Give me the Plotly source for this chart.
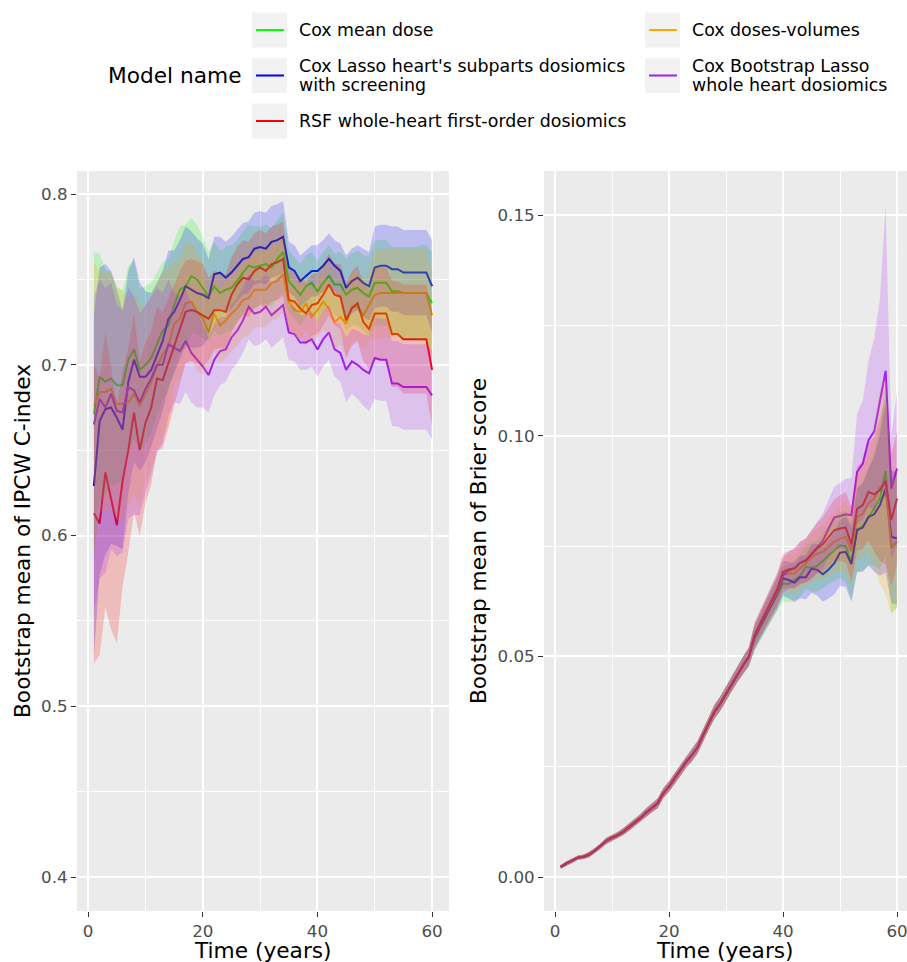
import plotly.graph_objects as go

W, H = 907, 962

# ---------------- data ----------------
years = list(range(1, 61))

model_names = [
    "Cox mean dose",
    "Cox Lasso heart's subparts dosiomics<br>with screening",
    "RSF whole-heart first-order dosiomics",
    "Cox doses-volumes",
    "Cox Bootstrap Lasso<br>whole heart dosiomics",
]

# IPCW C-index (left panel)
cidx_mean_meandose = [.671, .693, .690, .692, .688, .688, .703, .709, .697, .700,
                      .704, .712, .720, .723, .735, .744, .746, .752, .750, .745,
                      .740, .746, .742, .744, .745, .749, .754, .758, .757, .758,
                      .759, .757, .762, .766, .749, .745, .741, .746, .748, .743,
                      .748, .752, .747, .747, .741, .744, .745, .742, .740, .748,
                      .748, .748, .743, .743, .742, .742, .742, .742, .742, .736]
cidx_low_meandose = [.585, .621, .624, .630, .630, .633, .648, .657, .649, .654,
                     .660, .670, .680, .684, .697, .707, .710, .718, .718, .715,
                     .714, .720, .717, .719, .720, .725, .730, .734, .733, .735,
                     .736, .734, .739, .743, .731, .727, .723, .728, .730, .725,
                     .730, .734, .729, .728, .720, .723, .723, .720, .717, .723,
                     .723, .723, .717, .717, .715, .715, .715, .714, .714, .706]
cidx_high_meandose = [.766, .765, .756, .754, .746, .743, .758, .761, .745, .746,
                      .748, .754, .760, .762, .773, .781, .782, .786, .782, .775,
                      .766, .772, .767, .769, .770, .773, .778, .782, .781, .781,
                      .782, .780, .785, .789, .767, .763, .759, .764, .766, .761,
                      .766, .770, .765, .766, .762, .765, .767, .764, .763, .773,
                      .773, .773, .769, .769, .769, .769, .769, .770, .770, .766]

cidx_mean_lasso = [.629, .667, .674, .675, .669, .662, .690, .703, .693, .693,
                   .697, .705, .714, .727, .731, .738, .746, .744, .742, .741,
                   .739, .753, .754, .751, .754, .758, .762, .763, .768, .769,
                   .768, .772, .773, .775, .757, .755, .749, .752, .755, .755,
                   .758, .762, .758, .755, .745, .749, .751, .748, .746, .757,
                   .758, .758, .756, .756, .754, .754, .754, .754, .754, .746]
cidx_low_lasso = [.529, .577, .589, .595, .594, .592, .625, .643, .638, .643,
                  .652, .662, .673, .687, .695, .703, .711, .710, .710, .711,
                  .716, .731, .733, .730, .733, .737, .741, .742, .747, .748,
                  .747, .751, .752, .754, .742, .740, .734, .737, .740, .740,
                  .743, .747, .743, .739, .726, .730, .732, .728, .726, .733,
                  .734, .734, .731, .731, .729, .729, .729, .729, .729, .719]
cidx_high_lasso = [.729, .757, .759, .755, .744, .732, .755, .763, .748, .743,
                   .742, .748, .755, .767, .767, .773, .781, .778, .774, .771,
                   .762, .775, .775, .772, .775, .779, .783, .784, .789, .790,
                   .789, .793, .794, .796, .772, .770, .764, .767, .770, .770,
                   .773, .777, .773, .771, .764, .768, .770, .768, .766, .781,
                   .782, .782, .781, .781, .779, .779, .779, .779, .779, .773]

cidx_mean_rsf = [.613, .607, .637, .622, .606, .632, .650, .672, .650, .666,
                 .675, .692, .691, .701, .711, .722, .731, .732, .731, .729,
                 .727, .732, .732, .731, .741, .747, .751, .750, .755, .757,
                 .755, .759, .760, .762, .738, .737, .733, .730, .735, .736,
                 .741, .747, .741, .740, .726, .733, .736, .725, .721, .730,
                 .730, .730, .718, .718, .715, .715, .715, .715, .715, .697]
cidx_low_rsf = [.525, .530, .558, .545, .537, .570, .590, .614, .600, .619,
                .630, .650, .651, .663, .676, .689, .701, .702, .701, .699,
                .703, .709, .710, .709, .719, .725, .729, .728, .733, .735,
                .733, .737, .738, .740, .720, .719, .715, .712, .717, .718,
                .723, .729, .723, .721, .704, .711, .714, .702, .698, .703,
                .703, .703, .687, .687, .683, .683, .683, .683, .683, .664]
cidx_high_rsf = [.701, .692, .719, .699, .675, .697, .710, .730, .702, .713,
                 .720, .734, .731, .739, .746, .755, .761, .762, .761, .759,
                 .751, .755, .754, .753, .763, .769, .773, .772, .777, .779,
                 .777, .781, .782, .784, .756, .755, .751, .748, .753, .754,
                 .759, .765, .759, .759, .748, .755, .758, .748, .744, .757,
                 .757, .757, .749, .749, .747, .747, .747, .747, .747, .730]

cidx_mean_dv = [.676, .684, .684, .686, .677, .677, .678, .683, .676, .683,
                .690, .699, .706, .711, .724, .727, .736, .737, .731, .727,
                .719, .730, .723, .726, .730, .733, .738, .739, .744, .744,
                .744, .748, .749, .753, .737, .732, .731, .736, .728, .732,
                .737, .733, .725, .728, .724, .734, .734, .729, .735, .741,
                .742, .742, .742, .742, .742, .742, .742, .742, .742, .729]
cidx_low_dv = [.591, .614, .614, .617, .609, .610, .618, .624, .617, .632,
               .640, .650, .658, .665, .688, .692, .701, .703, .697, .694,
               .697, .708, .701, .704, .708, .711, .716, .717, .722, .722,
               .722, .726, .727, .731, .721, .716, .715, .720, .712, .716,
               .721, .717, .709, .712, .704, .714, .714, .709, .715, .715,
               .716, .716, .716, .716, .716, .716, .716, .716, .716, .703]
cidx_high_dv = [.761, .754, .754, .755, .745, .744, .738, .742, .735, .734,
                .740, .748, .754, .757, .760, .762, .771, .771, .765, .760,
                .741, .752, .745, .748, .752, .755, .760, .761, .766, .766,
                .766, .770, .771, .775, .753, .748, .747, .752, .744, .748,
                .753, .749, .741, .744, .744, .754, .754, .749, .755, .767,
                .768, .768, .768, .768, .768, .768, .768, .768, .768, .755]

cidx_mean_boot = [.665, .680, .675, .683, .673, .672, .687, .685, .678, .686,
                  .692, .700, .700, .712, .710, .708, .714, .707, .703, .699,
                  .694, .703, .708, .709, .716, .720, .726, .734, .730, .731,
                  .734, .729, .732, .735, .719, .718, .713, .713, .715, .709,
                  .715, .719, .709, .707, .697, .702, .700, .697, .695, .704,
                  .703, .703, .689, .689, .687, .687, .687, .687, .687, .682]
cidx_low_boot = [.555, .575, .578, .592, .588, .590, .610, .612, .612, .625,
                 .636, .648, .654, .670, .678, .677, .684, .678, .675, .675,
                 .672, .682, .688, .690, .697, .701, .707, .715, .711, .712,
                 .715, .710, .713, .716, .703, .702, .697, .697, .699, .693,
                 .699, .703, .693, .690, .678, .683, .680, .676, .673, .680,
                 .679, .679, .664, .664, .662, .662, .662, .662, .662, .656]
cidx_high_boot = [.740, .750, .745, .748, .735, .732, .745, .740, .730, .735,
                  .740, .745, .742, .750, .742, .739, .744, .736, .731, .723,
                  .716, .724, .728, .728, .735, .739, .745, .753, .749, .750,
                  .753, .748, .751, .754, .735, .734, .729, .729, .731, .725,
                  .731, .735, .725, .724, .716, .721, .720, .718, .717, .728,
                  .727, .727, .714, .714, .712, .712, .712, .712, .712, .708]

# Brier score (right panel): years 1-34 coincide for all models
brier_early_mean = [.0023, .0031, .0037, .0044, .0046, .0051, .0060, .0070, .0082, .0089,
                    .0095, .0103, .0113, .0123, .0134, .0146, .0157, .0167, .0190, .0205,
                    .0224, .0242, .0261, .0276, .0294, .0322, .0350, .0375, .0393, .0415,
                    .0439, .0461, .0480, .0499]
brier_early_low = [.0019, .0026, .0032, .0039, .0041, .0045, .0054, .0064, .0075, .0082,
                   .0088, .0095, .0105, .0114, .0125, .0136, .0147, .0156, .0179, .0193,
                   .0212, .0229, .0248, .0262, .0280, .0307, .0335, .0359, .0377, .0398,
                   .0421, .0442, .0460, .0478]
brier_early_high = [.0027, .0036, .0042, .0049, .0051, .0057, .0066, .0076, .0089, .0096,
                    .0102, .0111, .0121, .0132, .0143, .0156, .0167, .0178, .0201, .0217,
                    .0236, .0255, .0274, .0290, .0308, .0337, .0365, .0391, .0409, .0432,
                    .0457, .0480, .0500, .0520]

# years 35-60
brier_mean_meandose = brier_early_mean + [.0540, .0566, .0592, .0616, .0640, .0665, .0664, .0673, .0682, .0703,
                                          .0701, .0705, .0717, .0730, .0741, .0752, .0750, .0714, .0788, .0795,
                                          .0816, .0835, .0858, .0920, .0750, .0760]
brier_low_meandose = brier_early_low + [.0512, .0536, .0560, .0582, .0603, .0625, .0622, .0628, .0634, .0653,
                                        .0646, .0647, .0655, .0664, .0671, .0677, .0670, .0629, .0693, .0695,
                                        .0706, .0705, .0698, .0730, .0600, .0610]
brier_high_meandose = brier_early_high + [.0568, .0596, .0624, .0650, .0677, .0705, .0706, .0718, .0730, .0753,
                                          .0756, .0763, .0779, .0796, .0811, .0827, .0830, .0799, .0883, .0895,
                                          .0926, .0965, .1018, .1110, .0900, .0910]

brier_mean_lasso = brier_early_mean + [.0542, .0568, .0594, .0618, .0643, .0677, .0673, .0667, .0680, .0679,
                                       .0699, .0696, .0686, .0697, .0711, .0735, .0737, .0709, .0786, .0792,
                                       .0816, .0822, .0843, .0880, .0771, .0767]
brier_low_lasso = brier_early_low + [.0514, .0538, .0562, .0584, .0606, .0637, .0631, .0622, .0632, .0629,
                                     .0644, .0638, .0624, .0631, .0641, .0660, .0657, .0624, .0691, .0692,
                                     .0706, .0692, .0683, .0690, .0621, .0617]
brier_high_lasso = brier_early_high + [.0570, .0598, .0626, .0652, .0680, .0717, .0715, .0712, .0728, .0729,
                                       .0754, .0754, .0748, .0763, .0781, .0810, .0817, .0794, .0881, .0892,
                                       .0926, .0952, .1003, .1070, .0921, .0917]

brier_mean_rsf = brier_early_mean + [.0548, .0575, .0602, .0627, .0653, .0692, .0697, .0699, .0712, .0717,
                                     .0730, .0745, .0754, .0771, .0786, .0790, .0792, .0754, .0835, .0843,
                                     .0873, .0867, .0877, .0898, .0809, .0858]
brier_low_rsf = brier_early_low + [.0520, .0545, .0570, .0593, .0616, .0652, .0655, .0654, .0664, .0667,
                                   .0675, .0687, .0692, .0705, .0716, .0715, .0712, .0669, .0740, .0743,
                                   .0763, .0737, .0717, .0708, .0659, .0708]
brier_high_rsf = brier_early_high + [.0576, .0605, .0634, .0661, .0690, .0732, .0739, .0744, .0760, .0767,
                                     .0785, .0803, .0816, .0837, .0856, .0865, .0872, .0839, .0930, .0943,
                                     .0983, .0997, .1037, .1088, .0959, .1008]

brier_mean_dv = brier_early_mean + [.0545, .0572, .0598, .0622, .0647, .0684, .0688, .0688, .0699, .0711,
                                    .0724, .0733, .0737, .0748, .0760, .0767, .0771, .0740, .0816, .0824,
                                    .0847, .0858, .0884, .0890, .0745, .0760]
brier_low_dv = brier_early_low + [.0517, .0542, .0566, .0588, .0610, .0644, .0646, .0643, .0651, .0661,
                                  .0669, .0675, .0675, .0682, .0690, .0692, .0691, .0655, .0721, .0724,
                                  .0737, .0698, .0664, .0640, .0595, .0610]
brier_high_dv = brier_early_high + [.0573, .0602, .0630, .0656, .0684, .0724, .0730, .0733, .0747, .0761,
                                    .0779, .0791, .0799, .0814, .0830, .0842, .0851, .0825, .0911, .0924,
                                    .0957, .1018, .1104, .1140, .0895, .0910]

brier_mean_boot = brier_early_mean + [.0546, .0573, .0600, .0625, .0650, .0684, .0695, .0700, .0712, .0718,
                                      .0732, .0748, .0762, .0790, .0815, .0818, .0822, .0820, .0918, .0937,
                                      .0990, .1010, .1077, .1147, .0880, .0926]
brier_low_boot = brier_early_low + [.0518, .0543, .0568, .0591, .0613, .0644, .0653, .0655, .0664, .0668,
                                    .0677, .0690, .0700, .0724, .0745, .0743, .0742, .0735, .0800, .0810,
                                    .0840, .0830, .0880, .0860, .0720, .0750]
brier_high_boot = brier_early_high + [.0574, .0603, .0632, .0659, .0687, .0724, .0737, .0745, .0760, .0768,
                                      .0787, .0806, .0824, .0856, .0885, .0893, .0902, .0905, .1050, .1080,
                                      .1170, .1220, .1310, .1520, .1000, .1100]

x_tick_vals = [0, 20, 40, 60]
x_tick_text = ["0", "20", "40", "60"]
cidx_tick_vals = [0.4, 0.5, 0.6, 0.7, 0.8]
cidx_tick_text = ["0.4", "0.5", "0.6", "0.7", "0.8"]
brier_tick_vals = [0.0, 0.05, 0.10, 0.15]
brier_tick_text = ["0.00", "0.05", "0.10", "0.15"]
x_title = "Time (years)"

# ---------------- styles ----------------
line_colors = ["#00FF00", "#0000FF", "#FF0000", "#FFA500", "#A020F0"]
fill_colors = ["rgba(0,255,0,0.2)", "rgba(0,0,255,0.2)", "rgba(255,0,0,0.2)",
               "rgba(255,165,0,0.2)", "rgba(160,32,240,0.2)"]
FONT = "DejaVu Sans"
TICK_SIZE = 16.7
LEGEND_SIZE = 17.4
TITLE_SIZE = 21.7

panels = [
    dict(xa="x", ya="y",
         mean=[cidx_mean_meandose, cidx_mean_lasso, cidx_mean_rsf, cidx_mean_dv, cidx_mean_boot],
         low=[cidx_low_meandose, cidx_low_lasso, cidx_low_rsf, cidx_low_dv, cidx_low_boot],
         high=[cidx_high_meandose, cidx_high_lasso, cidx_high_rsf, cidx_high_dv, cidx_high_boot]),
    dict(xa="x2", ya="y2",
         mean=[brier_mean_meandose, brier_mean_lasso, brier_mean_rsf, brier_mean_dv, brier_mean_boot],
         low=[brier_low_meandose, brier_low_lasso, brier_low_rsf, brier_low_dv, brier_low_boot],
         high=[brier_high_meandose, brier_high_lasso, brier_high_rsf, brier_high_dv, brier_high_boot]),
]

fig = go.Figure()
line_order = [0, 1, 3, 4, 2]
for p in panels:
    for i in line_order:
        fig.add_trace(go.Scatter(
            x=years, y=p["mean"][i], mode="lines", xaxis=p["xa"], yaxis=p["ya"],
            line=dict(color=line_colors[i], width=2), name=model_names[i].replace("<br>", " "),
            showlegend=False))
    for i in range(5):
        fig.add_trace(go.Scatter(
            x=years + years[::-1], y=p["high"][i] + p["low"][i][::-1],
            mode="lines", fill="toself", fillcolor=fill_colors[i],
            line=dict(width=0, color=fill_colors[i]), xaxis=p["xa"], yaxis=p["ya"],
            hoverinfo="skip", showlegend=False))

# ---------------- axes ----------------
def px_x(v):
    return v / W

def px_y(v):
    return 1 - v / H

common_axis = dict(
    showline=False, zeroline=False, ticks="outside", ticklen=5, tickwidth=1.3,
    tickcolor="#333333", tickfont=dict(family=FONT, size=TICK_SIZE, color="#4D4D4D"),
    showgrid=True, gridcolor="white", gridwidth=2, automargin=False,
    ticklabeloverflow="allow",
    title_font=dict(family=FONT, size=TITLE_SIZE, color="black"),
)

x_doms = [[px_x(77), px_x(449)], [px_x(544), 1]]
y_dom = [px_y(911), px_y(171)]
fig.update_layout(
    xaxis=dict(common_axis, domain=x_doms[0], range=[-1.95, 62.95], anchor="y",
               tickvals=x_tick_vals, ticktext=x_tick_text,
               minor=dict(tickvals=[10, 30, 50], showgrid=True, gridcolor="white", gridwidth=1)),
    yaxis=dict(common_axis, domain=y_dom, range=[0.3801, 0.8135], anchor="x",
               tickvals=cidx_tick_vals, ticktext=cidx_tick_text,
               minor=dict(tickvals=[0.45, 0.55, 0.65, 0.75], showgrid=True, gridcolor="white", gridwidth=1),
               title=dict(text="Bootstrap mean of IPCW C-index", standoff=4)),
    xaxis2=dict(common_axis, domain=x_doms[1], range=[-1.93, 61.75], anchor="y2",
                tickvals=x_tick_vals, ticktext=x_tick_text,
                minor=dict(tickvals=[10, 30, 50], showgrid=True, gridcolor="white", gridwidth=1)),
    yaxis2=dict(common_axis, domain=y_dom, range=[-0.0077, 0.1600], anchor="x2",
                tickvals=brier_tick_vals, ticktext=brier_tick_text,
                minor=dict(tickvals=[0.025, 0.075, 0.125], showgrid=True, gridcolor="white", gridwidth=1),
                title=dict(text="Bootstrap mean of Brier score", standoff=4)),
)

annotations = []
# x-axis titles (placed like ggplot, centred under each panel)
for dom in x_doms:
    annotations.append(dict(text=x_title, xref="paper", yref="paper", x=(dom[0] + dom[1]) / 2,
                            y=px_y(950.5), xanchor="center", yanchor="middle", showarrow=False,
                            font=dict(family=FONT, size=TITLE_SIZE, color="black")))

# ---------------- legend (ggplot style, drawn in paper space) ----------------
shapes = []
col_left = [252, 645]
row_center = [30, 75.5, 121]
line_gap = 19
for i, name in enumerate(model_names):
    c, r = i // 3, i % 3
    x0 = col_left[c]
    yc = row_center[r]
    shapes.append(dict(type="rect", xref="paper", yref="paper",
                       x0=px_x(x0), x1=px_x(x0 + 35), y0=px_y(yc + 17.5), y1=px_y(yc - 17.5),
                       fillcolor="#F2F2F2", line=dict(width=0), layer="below"))
    shapes.append(dict(type="line", xref="paper", yref="paper",
                       x0=px_x(x0 + 4), x1=px_x(x0 + 32), y0=px_y(yc), y1=px_y(yc),
                       line=dict(color=line_colors[i], width=2)))
    parts = name.split("<br>")
    n = len(parts)
    for k, part in enumerate(parts):
        yk = yc + (k - (n - 1) / 2) * line_gap
        annotations.append(dict(text=part, xref="paper", yref="paper", x=px_x(x0 + 45), y=px_y(yk),
                                xanchor="left", yanchor="middle", align="left", showarrow=False,
                                font=dict(family=FONT, size=LEGEND_SIZE, color="black")))
annotations.append(dict(text="Model name", xref="paper", yref="paper", x=px_x(106), y=px_y(75.5),
                        xanchor="left", yanchor="middle", showarrow=False,
                        font=dict(family=FONT, size=TITLE_SIZE, color="black")))

fig.update_layout(
    width=W, height=H, margin=dict(l=0, r=0, t=0, b=0, pad=0),
    template="none", paper_bgcolor="white", plot_bgcolor="#EBEBEB",
    font=dict(family=FONT, size=16, color="black"),
    showlegend=False, shapes=shapes, annotations=annotations,
)

fig.write_html("out.html", config={"displayModeBar": False},
               post_script="document.body.style.margin='0';document.body.style.padding='0';"
                           "document.body.style.overflow='hidden';")
